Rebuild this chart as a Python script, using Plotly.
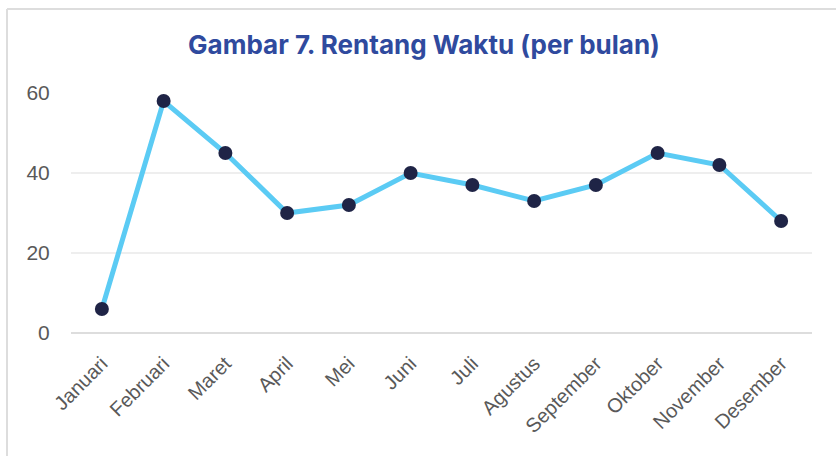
import plotly.graph_objects as go

months = ["Januari", "Februari", "Maret", "April", "Mei", "Juni", "Juli",
          "Agustus", "September", "Oktober", "November", "Desember"]
values = [6, 58, 45, 30, 32, 40, 37, 33, 37, 45, 42, 28]
y_ticks = [0, 20, 40, 60]
title_text = "Gambar 7. Rentang Waktu (per bulan)"

fig = go.Figure()
fig.add_trace(go.Scatter(
    x=months, y=values, mode="lines+markers",
    line=dict(color="#5BCBF4", width=5),
    marker=dict(color="#1F2446", size=14),
    cliponaxis=False, hoverinfo="skip",
))

W, H = 836, 456
L, R, T, B = 71, 24, 93, 123
pw, ph = W - L - R, H - T - B

def px_x(x):
    return (x - L) / pw

def px_y(y):
    return (H - B - y) / ph

border = dict(color="#DDDDDD", width=2)
fig.add_shape(type="line", xref="paper", yref="paper",
              x0=px_x(7), x1=px_x(840), y0=px_y(9), y1=px_y(9), line=border)
fig.add_shape(type="line", xref="paper", yref="paper",
              x0=px_x(7), x1=px_x(7), y0=px_y(9), y1=px_y(460), line=border)

fig.update_layout(
    width=W, height=H,
    margin=dict(l=L, r=R, t=T, b=B, autoexpand=False),
    paper_bgcolor="white", plot_bgcolor="white",
    showlegend=False,
    title=dict(text="<b>" + title_text + "</b>", x=424 / W, xanchor="center",
               y=1 - 45 / H, yanchor="middle",
               font=dict(family="Inter", size=26, color="#2F4A9E")),
    font=dict(family="Liberation Sans", size=20, color="#595959"),
    xaxis=dict(tickangle=-45, showgrid=False, showline=False,
               ticks="outside", ticklen=10, tickcolor="rgba(0,0,0,0)",
               automargin=False, range=[-0.5, len(months) - 0.5],
               tickfont=dict(family="Liberation Sans", size=20, color="#595959")),
    yaxis=dict(range=[0, 60], tickvals=y_ticks, showgrid=True,
               gridcolor="#EEEEEE", gridwidth=2, automargin=False,
               zeroline=True, zerolinecolor="#DDDDDD", zerolinewidth=2,
               showline=False, ticks="outside", ticklen=16,
               tickcolor="rgba(0,0,0,0)",
               tickfont=dict(family="Liberation Sans", size=21, color="#595959")),
)

fig.write_html("out.html", config={"displayModeBar": False},
               post_script="document.body.style.margin='0px';document.body.style.overflow='hidden';")
